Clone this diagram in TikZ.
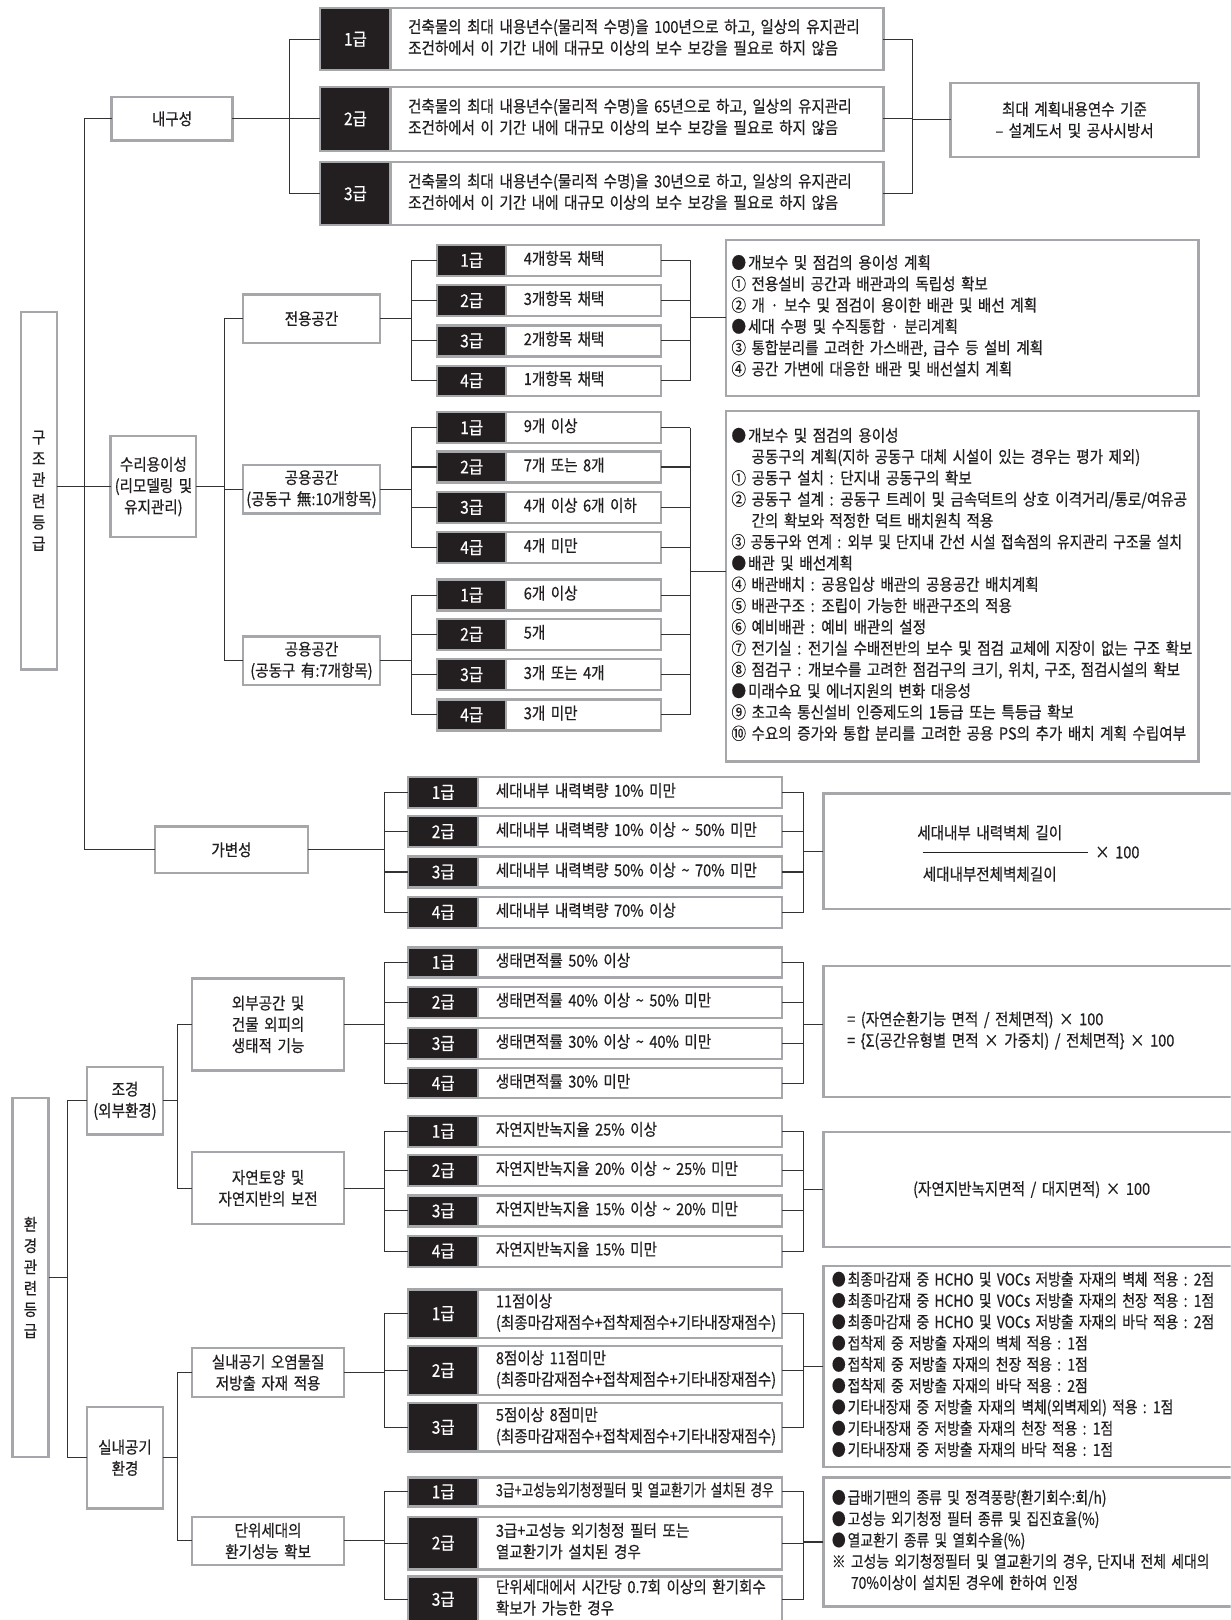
\documentclass[tikz,border=0pt]{standalone}
\usepackage{graphicx}
\usepackage{fontspec}
\setmainfont{Noto Sans CJK KR}[FakeStretch=0.88,WordSpace=1.7,FakeBold=0.5]
\definecolor{bord}{HTML}{A5A7AA}
\definecolor{blkf}{HTML}{231F20}
\definecolor{ink}{HTML}{231F20}
\definecolor{lin}{HTML}{333333}
\newcommand\fs{\fontsize{16}{20.6}\selectfont}
\newcommand\fg{\fontsize{17}{18}\selectfont}
\newcommand\fv{\fontsize{16}{24.4}\selectfont}
\newcommand\bul{●\hspace{2pt}}
\newcommand\sq[2]{\scalebox{#1}[1]{#2}}
\newcommand\LT[2]{\makebox[#1][l]{\begin{tabular}{@{}l@{}}#2\end{tabular}}}
% style, name, x1, y1, x2, y2, text
\newcommand\Bx[7]{\node[#1, minimum width={(#5)-(#3)}, minimum height={(#6)-(#4)}] (#2) at ({((#3)+(#5))/2},{((#4)+(#6))/2}) {#7};}
% style, name, y1, y2, xb1, xb2, xt2, grade, text
\newcommand\GR[9]{\pgfmathsetmacro\tw{#7-#6-34}\Bx{blk}{#2-g}{#5}{#3}{#6}{#4}{#8}\Bx{#1}{#2-t}{#6}{#3}{#7}{#4}{\LT{\tw pt}{#9}}}
\begin{document}
\begin{tikzpicture}[x=1pt,y=-1pt,
  every node/.style={inner sep=0pt,outer sep=0pt,text=ink},
  gb/.style={draw=bord,line width=2.2pt,fill=white,align=center,font=\fs},
  blk/.style={draw=bord,line width=2.2pt,fill=blkf,text=white,font=\fg},
  tb/.style={draw=bord,line width=2.2pt,fill=white,font=\fs},
  rb/.style={draw=bord,line width=2.2pt,fill=white,font=\fs},
  conn/.style={draw=lin,line width=1pt}]
\useasboundingbox (0,0) rectangle (1191,1568);
\clip (0,0) rectangle (1191,1568);
\fill[white] (0,0) rectangle (1191,1568);

% ---------- 구조관련등급 ----------
\Bx{gb}{struct}{20}{302}{55}{648}{\fv 구\\조\\관\\련\\등\\급}

% 내구성
\GR{tb}{d1}{8}{68}{310}{378}{855}{1급}{건축물의 최대 내용년수(물리적 수명)을 100년으로 하고, 일상의 유지관리\\조건하에서 이 기간 내에 대규모 이상의 보수 보강을 필요로 하지 않음}
\GR{tb}{d2}{84}{146}{310}{378}{855}{2급}{건축물의 최대 내용년수(물리적 수명)을 65년으로 하고, 일상의 유지관리\\조건하에서 이 기간 내에 대규모 이상의 보수 보강을 필요로 하지 않음}
\GR{tb}{d3}{157}{218}{310}{378}{855}{3급}{건축물의 최대 내용년수(물리적 수명)을 30년으로 하고, 일상의 유지관리\\조건하에서 이 기간 내에 대규모 이상의 보수 보강을 필요로 하지 않음}
\Bx{gb}{dur}{108}{94}{225}{136}{내구성}
\Bx{gb}{durR}{920}{80}{1160}{152}{최대 계획내용연수 기준\\– 설계도서 및 공사시방서}

% 수리용이성
\Bx{gb}{rep}{107}{422}{190}{520}{수리용이성\\(리모델링 및\\유지관리)}
\Bx{gb}{priv}{235}{285}{368}{332}{전용공간}
\Bx{gb}{pubA}{235}{450}{368}{497}{공용공간\\(공동구 無:10개항목)}
\Bx{gb}{pubB}{235}{616}{368}{663}{공용공간\\(공동구 有:7개항목)}
\GR{tb}{p1}{237}{267}{423}{490}{640}{1급}{4개항목 채택}
\GR{tb}{p2}{276}{306}{423}{490}{640}{2급}{3개항목 채택}
\GR{tb}{p3}{315}{345}{423}{490}{640}{3급}{2개항목 채택}
\GR{tb}{p4}{354}{383}{423}{490}{640}{4급}{1개항목 채택}
\GR{tb}{a1}{399}{429}{423}{490}{640}{1급}{9개 이상}
\GR{tb}{a2}{437}{467}{423}{490}{640}{2급}{7개 또는 8개}
\GR{tb}{a3}{476}{506}{423}{490}{640}{3급}{4개 이상 6개 이하}
\GR{tb}{a4}{515}{545}{423}{490}{640}{4급}{4개 미만}
\GR{tb}{b1}{561}{591}{423}{490}{640}{1급}{6개 이상}
\GR{tb}{b2}{599}{629}{423}{490}{640}{2급}{5개}
\GR{tb}{b3}{638}{668}{423}{490}{640}{3급}{3개 또는 4개}
\GR{tb}{b4}{677}{707}{423}{490}{640}{4급}{3개 미만}
\Bx{rb}{privR}{703}{232}{1160}{383}{\LT{447pt}{\bul 개보수 및 점검의 용이성 계획\\① 전용설비 공간과 배관과의 독립성 확보\\② 개 · 보수 및 점검이 용이한 배관 및 배선 계획\\\bul 세대 수평 및 수직통합 · 분리계획\\③ 통합분리를 고려한 가스배관, 급수 등 설비 계획\\④ 공간 가변에 대응한 배관 및 배선설치 계획}}
\Bx{rb}{pubR}{703}{398}{1160}{737}{\LT{447pt}{\bul 개보수 및 점검의 용이성\\\hphantom{①} 공동구의 계획(지하 공동구 대체 시설이 있는 경우는 평가 제외)\\① 공동구 설치 : 단지내 공동구의 확보\\② 공동구 설계 : 공동구 트레이 및 금속덕트의 상호 이격거리/통로/여유공\\\hphantom{②} 간의 확보와 적정한 덕트 배치원칙 적용\\\sq{0.95}{③ 공동구와 연계 : 외부 및 단지내 간선 시설 접속점의 유지관리 구조물 설치}\\\bul 배관 및 배선계획\\④ 배관배치 : 공용입상 배관의 공용공간 배치계획\\⑤ 배관구조 : 조립이 가능한 배관구조의 적용\\⑥ 예비배관 : 예비 배관의 설정\\⑦ 전기실 : 전기실 수배전반의 보수 및 점검 교체에 지장이 없는 구조 확보\\⑧ 점검구 : 개보수를 고려한 점검구의 크기, 위치, 구조, 점검시설의 확보\\\bul 미래수요 및 에너지원의 변화 대응성\\⑨ 초고속 통신설비 인증제도의 1등급 또는 특등급 확보\\⑩ 수요의 증가와 통합 분리를 고려한 공용 PS의 추가 배치 계획 수립여부}}

% 가변성
\Bx{gb}{var}{150}{800}{298}{845}{가변성}
\GR{tb}{c1}{752}{782}{395}{463}{757}{1급}{세대내부 내력벽량 10\% 미만}
\GR{tb}{c2}{790}{820}{395}{463}{757}{2급}{세대내부 내력벽량 10\% 이상 \textasciitilde{} 50\% 미만}
\GR{tb}{c3}{829}{859}{395}{463}{757}{3급}{세대내부 내력벽량 50\% 이상 \textasciitilde{} 70\% 미만}
\GR{tb}{c4}{868}{898}{395}{463}{757}{4급}{세대내부 내력벽량 70\% 이상}
\Bx{rb}{varR}{797}{768}{1200}{880}{}
\node[font=\fs] (fnum) at (958,806) {세대내부 내력벽체 길이};
\node[font=\fs] (fden) at (958,846) {세대내부전체벽체길이};
\coordinate (fl1) at (893,825);
\coordinate (fl2) at (1053,825);
\draw[draw=ink,line width=1pt] (fl1) -- (fl2);
\node[font=\fs,anchor=west] (fx) at (1060,825) {× 100};

% ---------- 환경관련등급 ----------
\Bx{gb}{env}{12}{1063}{47}{1410}{\fv 환\\경\\관\\련\\등\\급}
\Bx{gb}{land}{84}{1033}{158}{1098}{조경\\(외부환경)}
\Bx{gb}{ext}{186}{947}{333}{1036}{외부공간 및\\건물 외피의\\생태적 기능}
\Bx{gb}{soil}{186}{1115}{333}{1185}{자연토양 및\\자연지반의 보전}
\GR{tb}{e1}{917}{946}{395}{463}{757}{1급}{생태면적률 50\% 이상}
\GR{tb}{e2}{955}{985}{395}{463}{757}{2급}{생태면적률 40\% 이상 \textasciitilde{} 50\% 미만}
\GR{tb}{e3}{995}{1025}{395}{463}{757}{3급}{생태면적률 30\% 이상 \textasciitilde{} 40\% 미만}
\GR{tb}{e4}{1034}{1063}{395}{463}{757}{4급}{생태면적률 30\% 미만}
\GR{tb}{s1}{1080}{1110}{395}{463}{757}{1급}{자연지반녹지율 25\% 이상}
\GR{tb}{s2}{1118}{1148}{395}{463}{757}{2급}{자연지반녹지율 20\% 이상 \textasciitilde{} 25\% 미만}
\GR{tb}{s3}{1157}{1187}{395}{463}{757}{3급}{자연지반녹지율 15\% 이상 \textasciitilde{} 20\% 미만}
\GR{tb}{s4}{1196}{1226}{395}{463}{757}{4급}{자연지반녹지율 15\% 미만}
\Bx{rb}{extR}{797}{935}{1200}{1062}{\LT{357pt}{= (자연순환기능 면적 / 전체면적) × 100\\= \{Σ(공간유형별 면적 × 가중치) / 전체면적\} × 100}}
\Bx{gb}{soilR}{797}{1096}{1200}{1207}{(자연지반녹지면적 / 대지면적) × 100}

\Bx{gb}{air}{84}{1362}{158}{1460}{실내공기\\환경}
\Bx{gb}{pol}{186}{1305}{333}{1352}{실내공기 오염물질\\저방출 자재 적용}
\Bx{gb}{vent}{186}{1468}{333}{1515}{단위세대의\\환기성능 확보}
\GR{tb}{q1}{1248}{1295}{395}{463}{757}{1급}{11점이상\\(최종마감재점수+접착제점수+기타내장재점수)}
\GR{tb}{q2}{1303}{1350}{395}{463}{757}{2급}{8점이상 11점미만\\(최종마감재점수+접착제점수+기타내장재점수)}
\GR{tb}{q3}{1358}{1405}{395}{463}{757}{3급}{5점이상 8점미만\\(최종마감재점수+접착제점수+기타내장재점수)}
\GR{tb}{w1}{1430}{1458}{395}{463}{757}{1급}{\sq{0.87}{3급+고성능외기청정필터 및 열교환기가 설치된 경우}}
\GR{tb}{w2}{1468}{1519}{395}{463}{757}{2급}{3급+고성능 외기청정 필터 또는\\열교환기가 설치된 경우}
\GR{tb}{w3}{1526}{1570}{395}{463}{757}{3급}{단위세대에서 시간당 0.7회 이상의 환기회수\\확보가 가능한 경우}
\Bx{rb}{polR}{797}{1225}{1200}{1420}{\sq{0.95}{\LT{407pt}{\bul 최종마감재 중 HCHO 및 VOCs 저방출 자재의 벽체 적용 : 2점\\\bul 최종마감재 중 HCHO 및 VOCs 저방출 자재의 천장 적용 : 1점\\\bul 최종마감재 중 HCHO 및 VOCs 저방출 자재의 바닥 적용 : 2점\\\bul 접착제 중 저방출 자재의 벽체 적용 : 1점\\\bul 접착제 중 저방출 자재의 천장 적용 : 1점\\\bul 접착제 중 저방출 자재의 바닥 적용 : 2점\\\bul 기타내장재 중 저방출 자재의 벽체(외벽제외) 적용 : 1점\\\bul 기타내장재 중 저방출 자재의 천장 적용 : 1점\\\bul 기타내장재 중 저방출 자재의 바닥 적용 : 1점}}}
\Bx{rb}{ventR}{797}{1430}{1200}{1555}{\sq{0.95}{\LT{407pt}{\bul 급배기팬의 종류 및 정격풍량(환기회수:회/h)\\\bul 고성능 외기청정 필터 종류 및 집진효율(\%)\\\bul 열교환기 종류 및 열회수율(\%)\\※ 고성능 외기청정필터 및 열교환기의 경우, 단지내 전체 세대의\\\hphantom{※ }70\%이상이 설치된 경우에 한하여 인정}}}

% ---------- connectors ----------
\coordinate (tk) at (82,0);
\coordinate (v1) at (280,0);
\coordinate (r1) at (883,0);
\coordinate (v2) at (217,0);
\coordinate (v3) at (398,0);
\coordinate (r2) at (668,0);
\coordinate (v4) at (372,0);
\coordinate (r3) at (778,0);
\coordinate (v5) at (65,0);
\coordinate (v6) at (172,0);
\coordinate (m2) at (668,553);

% trunk
\draw[conn] (dur.west) -- (dur.west -| tk) -- (var.west -| tk) -- (var.west);
\draw[conn] (struct.east |- rep.west) -- (rep.west);
% 내구성
\draw[conn] (dur.east) -- (dur.east -| v1);
\draw[conn] (d1-g.west -| v1) -- (d3-g.west -| v1);
\foreach \n in {d1,d2,d3}{
  \draw[conn] (\n-g.west -| v1) -- (\n-g.west);
  \draw[conn] (\n-t.east) -- (\n-t.east -| r1);}
\draw[conn] (d1-t.east -| r1) -- (d3-t.east -| r1);
\draw[conn] (durR.west) -- (durR.west -| r1);
% 수리용이성
\draw[conn] (rep.east) -- (rep.east -| v2);
\draw[conn] (priv.west) -- (priv.west -| v2) -- (pubB.west -| v2) -- (pubB.west);
\draw[conn] (pubA.west) -- (pubA.west -| v2);
\draw[conn] (priv.east) -- (priv.east -| v3);
\draw[conn] (pubA.east) -- (pubA.east -| v3);
\draw[conn] (pubB.east) -- (pubB.east -| v3);
\draw[conn] (p1-g.west -| v3) -- (p4-g.west -| v3);
\draw[conn] (a1-g.west -| v3) -- (a4-g.west -| v3);
\draw[conn] (b1-g.west -| v3) -- (b4-g.west -| v3);
\foreach \n in {p1,p2,p3,p4,a1,a2,a3,a4,b1,b2,b3,b4}{
  \draw[conn] (\n-g.west -| v3) -- (\n-g.west);
  \draw[conn] (\n-t.east) -- (\n-t.east -| r2);}
\draw[conn] (p1-t.east -| r2) -- (p4-t.east -| r2);
\draw[conn] (privR.west) -- (privR.west -| r2);
\draw[conn] (a1-t.east -| r2) -- (b4-t.east -| r2);
\draw[conn] (m2) -- (m2 -| pubR.west);
% 가변성
\draw[conn] (var.east) -- (var.east -| v4);
\draw[conn] (c1-g.west -| v4) -- (c4-g.west -| v4);
\draw[conn] (c1-t.east -| r3) -- (c4-t.east -| r3);
\foreach \n in {c1,c2,c3,c4}{
  \draw[conn] (\n-g.west -| v4) -- (\n-g.west);
  \draw[conn] (\n-t.east) -- (\n-t.east -| r3);}
\draw[conn] (varR.west) -- (varR.west -| r3);
% 환경
\draw[conn] (env.east) -- (env.east -| v5);
\draw[conn] (land.west) -- (land.west -| v5) -- (air.west -| v5) -- (air.west);
\draw[conn] (land.east) -- (land.east -| v6);
\draw[conn] (ext.west) -- (ext.west -| v6) -- (soil.west -| v6) -- (soil.west);
\draw[conn] (air.east) -- (air.east -| v6);
\draw[conn] (pol.west) -- (pol.west -| v6) -- (vent.west -| v6) -- (vent.west);
\draw[conn] (ext.east) -- (ext.east -| v4);
\draw[conn] (soil.east) -- (soil.east -| v4);
\draw[conn] (pol.east) -- (pol.east -| v4);
\draw[conn] (vent.east) -- (vent.east -| v4);
\draw[conn] (e1-g.west -| v4) -- (e4-g.west -| v4);
\draw[conn] (s1-g.west -| v4) -- (s4-g.west -| v4);
\draw[conn] (q1-g.west -| v4) -- (q3-g.west -| v4);
\draw[conn] (w1-g.west -| v4) -- (w3-g.west -| v4);
\draw[conn] (e1-t.east -| r3) -- (e4-t.east -| r3);
\draw[conn] (s1-t.east -| r3) -- (s4-t.east -| r3);
\draw[conn] (q1-t.east -| r3) -- (q3-t.east -| r3);
\draw[conn] (w1-t.east -| r3) -- (w3-t.east -| r3);
\foreach \n in {e1,e2,e3,e4,s1,s2,s3,s4,q1,q2,q3,w1,w2,w3}{
  \draw[conn] (\n-g.west -| v4) -- (\n-g.west);
  \draw[conn] (\n-t.east) -- (\n-t.east -| r3);}
\draw[conn] (extR.west |- ext.east) -- (extR.west |- ext.east -| r3);
\draw[conn] (soilR.west) -- (soilR.west -| r3);
\draw[conn] (polR.west) -- (polR.west -| r3);
\draw[conn] (ventR.west) -- (ventR.west -| r3);
\end{tikzpicture}
\end{document}
